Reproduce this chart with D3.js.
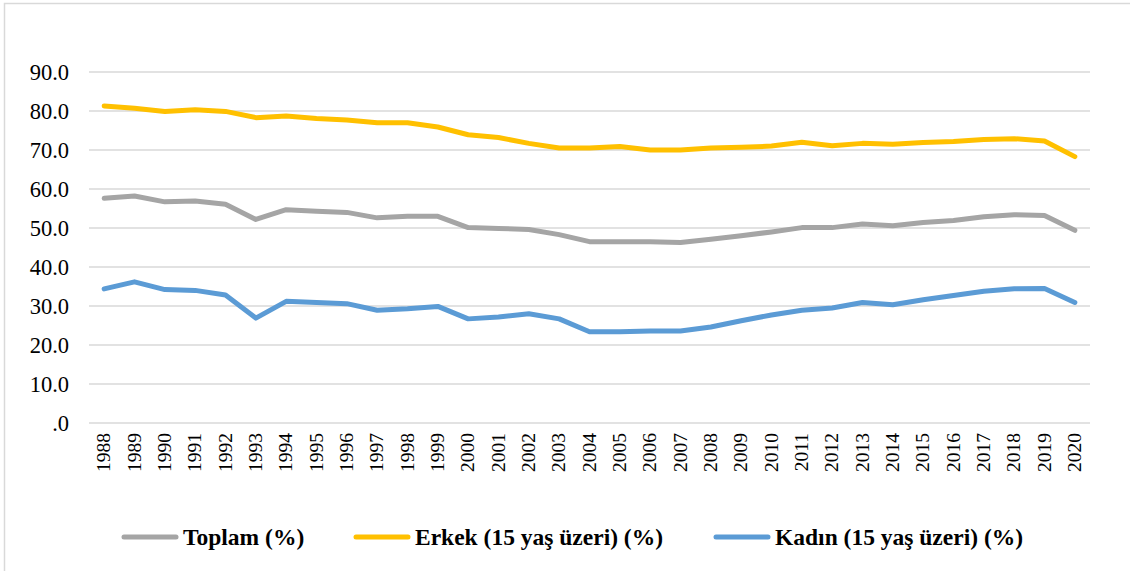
<!DOCTYPE html>
<html>
<head>
<meta charset="utf-8">
<script src="https://cdn.jsdelivr.net/npm/d3@7"></script>
<style>
  body { margin: 0; background: #fff; }
  svg { display: block; }
  text { font-family: "Liberation Serif", "Times New Roman", Times, serif; }
</style>
</head>
<body>
<svg id="chart"></svg>
<script>
// Years on the x axis
const years = ["1988","1989","1990","1991","1992","1993","1994","1995","1996","1997",
  "1998","1999","2000","2001","2002","2003","2004","2005","2006","2007","2008","2009",
  "2010","2011","2012","2013","2014","2015","2016","2017","2018","2019","2020"];

// Series values (%)
const toplam = [57.6, 58.2, 56.7, 56.9, 56.1, 52.2, 54.7, 54.3, 54.0, 52.6,
  53.0, 53.0, 50.1, 49.9, 49.6, 48.3, 46.5, 46.5, 46.5, 46.3, 47.1, 48.0,
  49.0, 50.1, 50.1, 51.0, 50.6, 51.4, 51.9, 52.9, 53.4, 53.2, 49.4];
const erkek = [81.3, 80.7, 79.9, 80.3, 79.9, 78.3, 78.7, 78.1, 77.7, 77.0,
  77.0, 75.9, 73.9, 73.2, 71.7, 70.5, 70.5, 70.9, 70.0, 70.0, 70.5, 70.7,
  71.0, 72.0, 71.1, 71.7, 71.5, 71.9, 72.2, 72.7, 72.9, 72.3, 68.3];
const kadin = [34.4, 36.2, 34.2, 34.0, 32.8, 26.9, 31.2, 30.9, 30.6, 28.9,
  29.3, 29.9, 26.7, 27.2, 28.0, 26.7, 23.4, 23.4, 23.6, 23.6, 24.6, 26.2,
  27.7, 28.9, 29.5, 30.9, 30.3, 31.6, 32.7, 33.8, 34.4, 34.5, 30.9];

const yTicks = [0, 10, 20, 30, 40, 50, 60, 70, 80, 90];

const series = [
  { name: "Toplam (%)", values: toplam, color: "#A5A5A5" },
  { name: "Erkek (15 yaş üzeri) (%)", values: erkek, color: "#FFC000" },
  { name: "Kadın (15 yaş üzeri) (%)", values: kadin, color: "#5B9BD5" }
];

const width = 1130, height = 571;
const margin = { top: 72, right: 40, bottom: 148, left: 89 };
const serif = "Liberation Serif";

const svg = d3.select("#chart")
  .attr("width", width)
  .attr("height", height);

// Chart area frame (only top and left edges fall inside the picture)
svg.append("path")
  .attr("d", `M4.5,${height}V3.5H${width}`)
  .attr("fill", "none")
  .attr("stroke", "#D9D9D9")
  .attr("stroke-width", 1.5);

const x = d3.scaleBand()
  .domain(years)
  .range([margin.left, width - margin.right]);

const y = d3.scaleLinear()
  .domain([0, 90])
  .range([height - margin.bottom, margin.top]);

// Gridlines
svg.append("g")
  .selectAll("line")
  .data(yTicks)
  .join("line")
  .attr("x1", margin.left)
  .attr("x2", width - margin.right)
  .attr("y1", d => y(d))
  .attr("y2", d => y(d))
  .attr("stroke", "#D9D9D9")
  .attr("stroke-width", 1.5);

// Y axis labels
svg.append("g")
  .selectAll("text")
  .data(yTicks)
  .join("text")
  .attr("x", 69)
  .attr("y", d => y(d))
  .attr("dy", "0.35em")
  .attr("text-anchor", "end")
  .attr("font-family", serif)
  .attr("font-size", 22.5)
  .attr("fill", "#000")
  .text(d => d === 0 ? ".0" : d.toFixed(1));

// X axis labels, rotated
svg.append("g")
  .selectAll("text")
  .data(years)
  .join("text")
  .attr("transform", d => `translate(${x(d) + x.bandwidth() / 2 + 6},${y(0) + 10}) rotate(-90)`)
  .attr("text-anchor", "end")
  .attr("font-family", serif)
  .attr("font-size", 19.5)
  .attr("fill", "#000")
  .text(d => d);

// Lines
const line = d3.line()
  .x((d, i) => x(years[i]) + x.bandwidth() / 2)
  .y(d => y(d));

svg.append("g")
  .selectAll("path")
  .data(series)
  .join("path")
  .attr("d", d => line(d.values))
  .attr("fill", "none")
  .attr("stroke", d => d.color)
  .attr("stroke-width", 5)
  .attr("stroke-linejoin", "round")
  .attr("stroke-linecap", "round");

// Legend
const legendX = [124, 356, 716];
const legend = svg.append("g")
  .selectAll("g")
  .data(series)
  .join("g")
  .attr("transform", (d, i) => `translate(${legendX[i]},537)`);

legend.append("line")
  .attr("x1", 0)
  .attr("x2", 52)
  .attr("stroke", d => d.color)
  .attr("stroke-width", 5)
  .attr("stroke-linecap", "round");

legend.append("text")
  .attr("x", 59)
  .attr("dy", "0.35em")
  .attr("font-family", serif)
  .attr("font-size", 23.5)
  .attr("font-weight", "bold")
  .attr("fill", "#000")
  .text(d => d.name);
</script>
</body>
</html>
